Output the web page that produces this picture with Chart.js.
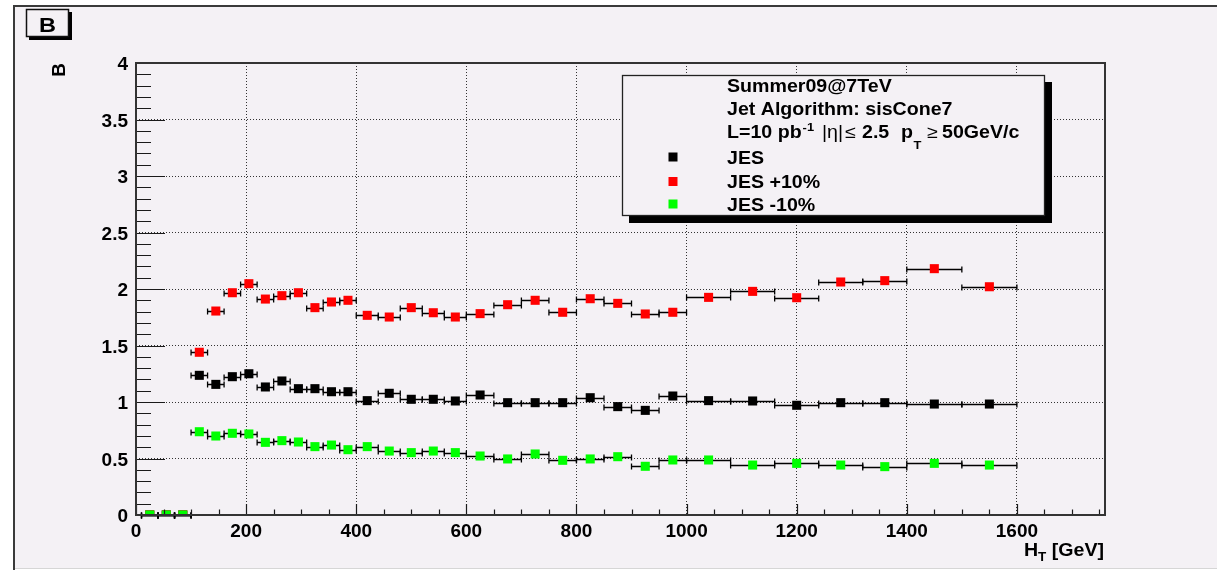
<!DOCTYPE html>
<html>
<head>
<meta charset="utf-8">
<script src="https://cdn.jsdelivr.net/npm/chart.js@4/dist/chart.umd.min.js"></script>
<style>
  html, body { margin: 0; padding: 0; background: #fff; overflow: hidden; }
  canvas { display: block; }
</style>
</head>
<body>
<canvas id="c" width="1217" height="570"></canvas>
<script>
// HT bin edges (GeV); each series holds one B value per bin
const binEdges = [10, 40, 70, 100, 130, 160, 190, 220, 250, 280, 310, 340, 370, 400,
  440, 480, 520, 560, 600, 650, 700, 750, 800, 850, 900, 950, 1000,
  1080, 1160, 1240, 1320, 1400, 1500, 1600];

const jesNominal = [0, 0, 0, 1.236, 1.156, 1.224, 1.25, 1.133, 1.186, 1.118, 1.118, 1.091, 1.091,
  1.012, 1.077, 1.024, 1.024, 1.009,
  1.062, 0.994, 0.994, 0.994, 1.038, 0.959, 0.926, 1.053,
  1.012, 1.009, 0.971, 0.994, 0.994,
  0.982, 0.982];

const jesUp = [0, 0, 0, 1.44, 1.805, 1.967, 2.047, 1.911, 1.941, 1.967, 1.835, 1.885, 1.9,
  1.767, 1.752, 1.835, 1.79, 1.752,
  1.782, 1.861, 1.9, 1.794, 1.914, 1.873, 1.779, 1.794,
  1.926, 1.979, 1.923, 2.062, 2.074,
  2.18, 2.02];

const jesDown = [0, 0, 0, 0.737, 0.699, 0.723, 0.717, 0.643, 0.658, 0.646, 0.605, 0.619, 0.578,
  0.605, 0.566, 0.552, 0.566, 0.552,
  0.522, 0.496, 0.54, 0.484, 0.496, 0.516, 0.431, 0.487,
  0.487, 0.442, 0.457, 0.442, 0.428,
  0.457, 0.442];

const seriesLabels = ['JES', 'JES +10%', 'JES -10%'];
const seriesColors = ['#000000', '#ff0000', '#00ff00'];

const xTickValues = [0, 200, 400, 600, 800, 1000, 1200, 1400, 1600];
const yTickValues = [0, 0.5, 1, 1.5, 2, 2.5, 3, 3.5, 4];

const PAD_COLOR = '#f4f1f5';
const FAMILY = '"Liberation Sans", Arial, Helvetica, sans-serif';
const STRETCH = 1.12;   // slightly widened Helvetica-style lettering

function toPoints(values) {
  return values.map((v, i) => ({ x: (binEdges[i] + binEdges[i + 1]) / 2, y: v }));
}

// canvas pad: white page with a light pad and a dark frame on the top and left
const padBackdrop = {
  id: 'padBackdrop',
  beforeDraw(chart) {
    const { ctx, width, height } = chart;
    ctx.save();
    ctx.fillStyle = '#ffffff';
    ctx.fillRect(0, 0, width, height);
    ctx.fillStyle = PAD_COLOR;
    ctx.fillRect(15, 7, width - 15, 561);
    ctx.fillStyle = '#3a3a3a';
    ctx.fillRect(13, 5, width - 13, 2);
    ctx.fillRect(13, 5, 2, height - 5);
    ctx.fillStyle = '#d6d6d6';
    ctx.fillRect(15, 568, width - 15, 1);
    ctx.restore();
  }
};

// horizontal bars spanning each bin, with end caps
const binErrorBars = {
  id: 'binErrorBars',
  beforeDatasetsDraw(chart) {
    const { ctx, scales: { x, y } } = chart;
    ctx.save();
    ctx.strokeStyle = '#000';
    ctx.lineWidth = 1.3;
    chart.data.datasets.forEach(ds => {
      ds.data.forEach((p, i) => {
        const x0 = x.getPixelForValue(binEdges[i]);
        const x1 = x.getPixelForValue(binEdges[i + 1]);
        const py = Math.round(y.getPixelForValue(p.y)) + 0.5;
        ctx.beginPath();
        ctx.moveTo(x0, py); ctx.lineTo(x1, py);
        ctx.moveTo(x0, py - 3); ctx.lineTo(x0, py + 3);
        ctx.moveTo(x1, py - 3); ctx.lineTo(x1, py + 3);
        ctx.stroke();
      });
    });
    ctx.restore();
  }
};

// plot frame plus inward major/minor tick marks
const frameTicks = {
  id: 'frameTicks',
  afterDraw(chart) {
    const { ctx, chartArea: a, scales: { x, y } } = chart;
    ctx.save();
    ctx.strokeStyle = '#1a1a1a';
    ctx.lineWidth = 1.2;
    ctx.beginPath();
    for (let k = 0; k * 50 <= x.max; k++) {
      const px = Math.round(x.getPixelForValue(k * 50)) + 0.5;
      const len = k % 4 === 0 ? 11 : 5.5;
      ctx.moveTo(px, a.bottom); ctx.lineTo(px, a.bottom - len);
    }
    for (let k = 0; k <= 40; k++) {
      const py = Math.round(y.getPixelForValue(k / 10)) + 0.5;
      const len = k % 5 === 0 ? 29 : 15;
      ctx.moveTo(a.left, py); ctx.lineTo(a.left + len, py);
    }
    ctx.stroke();
    ctx.lineWidth = 2;
    ctx.strokeStyle = '#333';
    ctx.strokeRect(a.left, a.top, a.right - a.left, a.bottom - a.top);
    ctx.restore();
  }
};

// draws one text run, widened by STRETCH, and returns the x where it ends
function drawRun(ctx, x, baseline, text, size, weight, dy) {
  ctx.font = `${weight} ${size}px ${FAMILY}`;
  ctx.save();
  ctx.translate(x, baseline + (dy || 0));
  ctx.scale(STRETCH, 1);
  ctx.fillText(text, 0, 0);
  ctx.restore();
  return x + ctx.measureText(text).width * STRETCH;
}
function runWidth(ctx, text, size, weight) {
  ctx.font = `${weight} ${size}px ${FAMILY}`;
  return ctx.measureText(text).width * STRETCH;
}

// legend pave, pad label and axis title with sub/superscripts
const annotations = {
  id: 'annotations',
  afterDraw(chart) {
    const ctx = chart.ctx;
    ctx.save();
    ctx.textBaseline = 'alphabetic';
    ctx.textAlign = 'left';

    // pad label box
    ctx.fillStyle = '#000';
    ctx.fillRect(29, 12, 43, 28);
    ctx.fillStyle = PAD_COLOR;
    ctx.fillRect(26, 9, 43, 28);
    ctx.strokeStyle = '#111';
    ctx.lineWidth = 1.5;
    ctx.strokeRect(26.5, 9.5, 42, 27);
    ctx.fillStyle = '#000';
    const bW = runWidth(ctx, 'B', 21, 'bold');
    drawRun(ctx, 47.5 - bW / 2, 32, 'B', 21, 'bold');

    // legend pave with shadow
    const bx = 622, by = 75, bw = 423, bh = 141, sh = 7;
    ctx.fillStyle = '#000';
    ctx.fillRect(bx + sh, by + bh, bw, sh);
    ctx.fillRect(bx + bw, by + sh, sh, bh);
    ctx.fillStyle = PAD_COLOR;
    ctx.fillRect(bx, by, bw, bh);
    ctx.strokeStyle = '#222';
    ctx.lineWidth = 1.3;
    ctx.strokeRect(bx + 0.5, by + 0.5, bw - 1, bh - 1);

    ctx.fillStyle = '#000';
    const tx = 727, fs = 17.5;
    drawRun(ctx, tx, 92, 'Summer09@7TeV', fs, 'bold');
    drawRun(ctx, tx, 114.5, 'Jet Algorithm: sisCone7', fs, 'bold');
    const b3 = 137.5;
    let cx = drawRun(ctx, tx, b3, 'L=10 pb', fs, 'bold');
    drawRun(ctx, cx + 1, b3, '-1', 11.5, 'bold', -7);
    drawRun(ctx, 822, b3, '|\u03B7|', fs, 'normal');
    drawRun(ctx, 845, b3, '\u2264', fs, 'normal');
    drawRun(ctx, 862, b3, '2.5', fs, 'bold');
    cx = drawRun(ctx, 901, b3, 'p', fs, 'bold');
    drawRun(ctx, cx + 0.5, b3, 'T', 11.5, 'bold', 11);
    drawRun(ctx, 927, b3, '\u2265', fs, 'normal');
    drawRun(ctx, 942, b3, '50GeV/c', fs, 'bold');

    const entryBase = [163.5, 188, 210.5];
    chart.data.datasets.forEach((ds, i) => {
      ctx.fillStyle = ds.backgroundColor;
      ctx.fillRect(673 - 4.5, entryBase[i] - 6.5 - 4.5, 9, 9);
      ctx.fillStyle = '#000';
      drawRun(ctx, tx, entryBase[i], ds.label, fs, 'bold');
    });

    // x axis title, right aligned to the frame
    const tail = ' [GeV]';
    const right = 1104;
    let hx = right - runWidth(ctx, tail, 17.5, 'bold') - runWidth(ctx, 'T', 12, 'bold') - runWidth(ctx, 'H', 17.5, 'bold');
    hx = drawRun(ctx, hx, 556, 'H', 17.5, 'bold');
    hx = drawRun(ctx, hx, 556, 'T', 12, 'bold', 5);
    drawRun(ctx, hx, 556, tail, 17.5, 'bold');

    ctx.restore();
  }
};

const datasets = [jesNominal, jesUp, jesDown].map((vals, i) => ({
  label: seriesLabels[i],
  data: toPoints(vals),
  backgroundColor: seriesColors[i],
  borderColor: seriesColors[i],
  order: 3 - i
}));

const tickFont = { family: FAMILY, size: 19, weight: 'bold' };

new Chart(document.getElementById('c'), {
  type: 'scatter',
  data: { datasets },
  options: {
    responsive: false,
    animation: false,
    devicePixelRatio: 1,
    layout: { padding: { top: 63, right: 112, left: 0, bottom: 0 } },
    elements: { point: { pointStyle: 'rect', radius: 6.4, hoverRadius: 6.4, borderWidth: 0 } },
    plugins: { legend: { display: false }, tooltip: { enabled: false } },
    scales: {
      x: {
        type: 'linear', min: 0, max: 1760,
        afterBuildTicks: s => { s.ticks = xTickValues.map(v => ({ value: v })); },
        afterFit: s => { s.height = 55; },
        grid: { color: '#333', lineWidth: 1, drawTicks: false },
        border: { display: false, dash: [1, 2] },
        ticks: { font: tickFont, color: '#000', padding: 5, maxRotation: 0, autoSkip: false,
          callback: v => String(v) }
      },
      y: {
        type: 'linear', min: 0, max: 4,
        afterBuildTicks: s => { s.ticks = yTickValues.map(v => ({ value: v })); },
        afterFit: s => { s.width = 136; },
        grid: { color: '#333', lineWidth: 1, drawTicks: false },
        border: { display: false, dash: [1, 2] },
        ticks: { font: tickFont, color: '#000', padding: 8, labelOffset: 2, autoSkip: false,
          callback: v => String(v) },
        title: { display: true, text: 'B', align: 'end', color: '#000',
          font: { family: FAMILY, size: 19, weight: 'bold' }, padding: { top: 48, bottom: 0 } }
      }
    }
  },
  plugins: [padBackdrop, binErrorBars, frameTicks, annotations]
});
</script>
</body>
</html>
